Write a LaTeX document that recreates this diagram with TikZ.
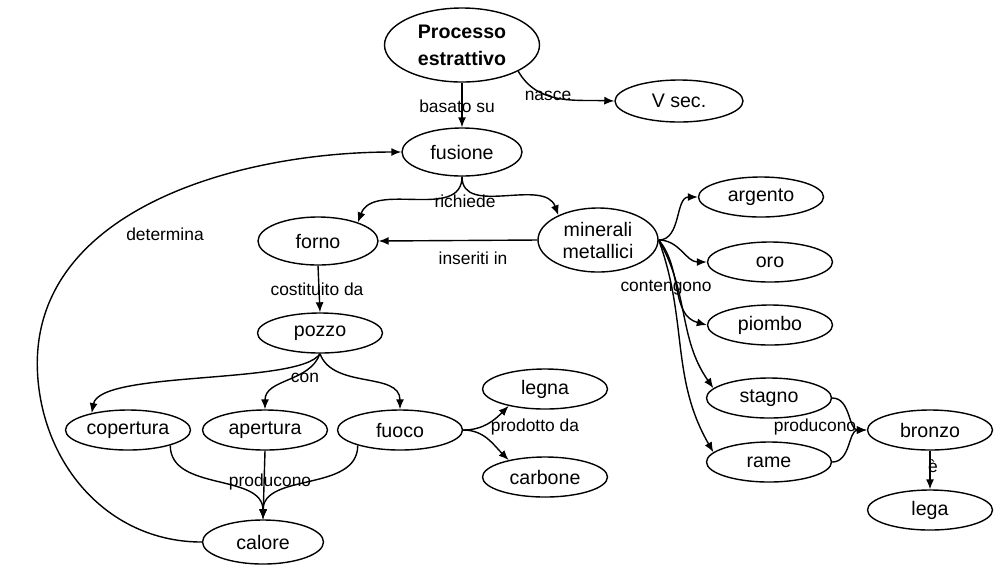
\documentclass[tikz,border=0pt]{standalone}
\usepackage{fontspec}
\setmainfont{Liberation Sans}
\usetikzlibrary{shapes.geometric,arrows.meta}
\begin{document}
\begin{tikzpicture}[x=0.5pt,y=-0.5pt,concept/.style={shape=ellipse,draw=black,line width=0.7pt,fill=white,inner sep=0pt,minimum width=62.5pt,minimum height=20pt,font=\fontsize{9.8}{12}\selectfont},conceptL/.style={concept,minimum width=60pt,minimum height=24pt},linkw/.style={font=\fontsize{8.7}{10}\selectfont,inner sep=0pt},conn/.style={draw=black,line width=0.7pt},connA/.style={conn,-{Latex[length=5pt,width=4pt]}}]
\path[fill=white] (0,0) rectangle (999,564);

\node[concept,font=\fontsize{9.8}{13.5}\selectfont\bfseries,align=center,minimum width=77.5pt,minimum height=37pt] (proc) at (462,45) {Processo\\estrattivo};
\node[concept,minimum width=64pt,minimum height=21pt] (vsec) at (679,101) {V sec.};
\node[conceptL] (fus) at (462,152) {fusione};
\node[linkw] (basato) at (457,106) {basato su};
\draw[connA] (proc.south) -- (fus.north);
\node[linkw] (nasce) at (548,96) {nasce};
\draw[connA] (proc.-25) to[out=-60,in=178] (vsec.west);

\node[conceptL] (forno) at (318,241) {forno};
\node[concept,minimum width=60pt,minimum height=32pt,align=center,font=\fontsize{9.8}{11}\selectfont] (min) at (598,240) {minerali\\metallici};
\node[linkw] (richiede) at (465,201) {richiede};
\draw[connA] (fus.south) to[out=-90,in=70] (forno.25);
\draw[connA] (fus.south) to[out=-90,in=110] (min.148);
\node[linkw] (inseriti) at (473,258) {inseriti in};
\draw[connA] (min.west) -- (forno.east);

\node[concept] (pozzo) at (320,333) {pozzo};
\node[linkw] (costituito) at (317,289) {costituito da};
\draw[connA] (forno.south) -- (pozzo.north);

\node[concept] (cop) at (128,430) {copertura};
\node[concept] (ape) at (265,430) {apertura};
\node[concept] (fuoco) at (400,430) {fuoco};
\node[linkw] (con) at (305,378) {con};
\draw[connA] (pozzo.south) .. controls (300,385) and (100,370) .. (cop.155);
\draw[connA] (pozzo.south) to[out=-110,in=90] (ape.north);
\draw[connA] (pozzo.south) to[out=-70,in=90] (fuoco.north);

\node[concept,minimum width=60.5pt,minimum height=22pt] (calore) at (263,542) {calore};
\node[linkw] (prodL) at (270,482) {producono};
\draw[connA] (cop.-20) to[out=-90,in=90] (calore.north);
\draw[connA] (ape.south) -- (calore.north);
\draw[connA] (fuoco.-160) to[out=-90,in=90] (calore.north);

\node[linkw] (determina) at (165,234) {determina};
\draw[connA] (calore.west) to[out=180,in=-85] (38,380) to[out=95,in=180] (fus.west);

\node[concept] (legna) at (545,389) {legna};
\node[concept] (carbone) at (545,477) {carbone};
\node[linkw] (prodotto) at (535,427) {prodotto da};
\draw[connA] (fuoco.east) to[out=0,in=-135] (legna.-155);
\draw[connA] (fuoco.east) to[out=0,in=135] (carbone.155);

\node[concept] (argento) at (761,197) {argento};
\node[concept] (oro) at (770,262) {oro};
\node[concept] (piombo) at (770,325) {piombo};
\node[concept] (stagno) at (769,398) {stagno};
\node[concept] (rame) at (769,462) {rame};
\node[linkw] (contengono) at (666,288) {contengono};
\draw[connA] (min.east) to[out=0,in=180] (argento.west);
\draw[connA] (min.east) to[out=0,in=180] (oro.west);
\draw[connA] (min.east) to[out=-50,in=165] (piombo.west);
\draw[connA] (min.east) to[out=-60,in=125] (stagno.170);
\draw[connA] (min.east) to[out=-70,in=120] (rame.170);

\node[concept] (bronzo) at (930,430) {bronzo};
\node[concept] (lega) at (930,510) {lega};
\node[linkw] (prodR) at (815,427) {producono};
\draw[connA] (stagno.east) to[out=0,in=180] (bronzo.west);
\draw[connA] (rame.east) to[out=0,in=180] (bronzo.west);
\node[linkw] (e) at (933,466) {è};
\draw[connA] (bronzo.south) -- (lega.north);
\end{tikzpicture}
\end{document}
